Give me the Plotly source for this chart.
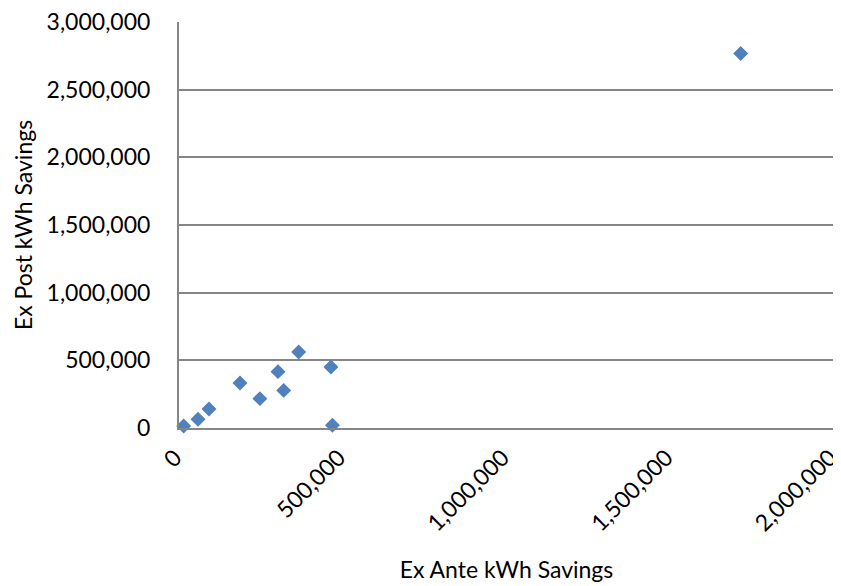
import plotly.graph_objects as go

ex_ante = [14300, 58000, 91600, 186300, 247000, 302300, 319700, 365500, 464000, 468400, 1715000]
ex_post = [14800, 64000, 140000, 332000, 217000, 416500, 278000, 561000, 450500, 20000, 2767000]

x_ticks = [0, 500000, 1000000, 1500000, 2000000]
y_ticks = [0, 500000, 1000000, 1500000, 2000000, 2500000, 3000000]

FONT = "Lato"

fig = go.Figure()
fig.add_trace(go.Scatter(
    x=ex_ante, y=ex_post, mode="markers",
    marker=dict(symbol="diamond", size=11.5, color="#4F81BD", line=dict(width=0)),
    showlegend=False, cliponaxis=False,
))

# page body has an 8px margin, so the figure is sized/offset accordingly
fig.update_layout(
    width=833, height=578,
    margin=dict(l=171, r=7, t=14, b=158, autoexpand=False),
    paper_bgcolor="white", plot_bgcolor="white",
    font=dict(family=FONT, size=23, color="#000000"),
)
fig.update_xaxes(
    range=[0, 2000000], tickvals=x_ticks,
    ticktext=[f"{v:,}" for v in x_ticks],
    tickangle=-45, showgrid=False, zeroline=False,
    showline=True, linecolor="#868686", linewidth=2,
    ticks="", tickfont=dict(family=FONT, size=23),
    ticklabelstandoff=5, ticklabelshift=-4,
    ticklabeloverflow="allow", automargin=False,
    title=dict(text="Ex Ante kWh Savings", font=dict(family=FONT, size=23), standoff=27),
)
fig.update_yaxes(
    range=[0, 3000000], tickvals=y_ticks,
    ticktext=[f"{v:,}" for v in y_ticks],
    showgrid=True, gridcolor="#868686", gridwidth=1.5, zeroline=False,
    showline=True, linecolor="#868686", linewidth=2,
    ticks="", ticklabelstandoff=22, tickfont=dict(family=FONT, size=23),
    ticklabeloverflow="allow", automargin=False,
)
fig.add_annotation(
    text="Ex Post kWh Savings", textangle=-90,
    xref="paper", yref="paper", x=-0.238, y=0.5,
    xanchor="center", yanchor="middle", showarrow=False,
    font=dict(family=FONT, size=23, color="#000000"),
)

fig.write_html("out.html")
